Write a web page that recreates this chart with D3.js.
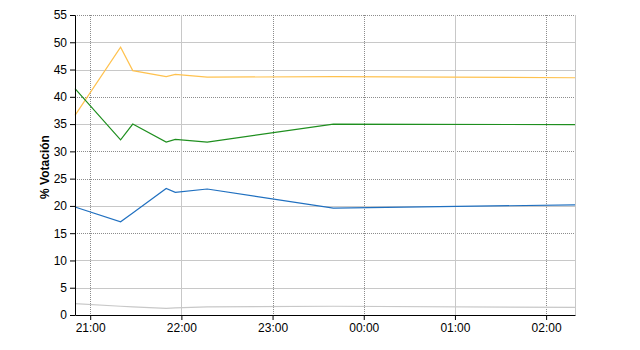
<!DOCTYPE html>
<html>
<head>
<meta charset="utf-8">
<script src="https://cdn.jsdelivr.net/npm/d3@7"></script>
<style>
  body { margin: 0; background: #fff; }
  .axis text { font-family: "Liberation Sans", Arial, sans-serif; font-size: 12px; fill: #000; }
  .axis path, .axis line { stroke: #000; }
</style>
</head>
<body>
<div id="chart"></div>
<script>
// data
var times  = ["20:50", "21:20", "21:28", "21:50", "21:56", "22:17", "23:40", "02:19"];
var orange = [36.6, 49.1, 44.8, 43.7, 44.1, 43.6, 43.7, 43.5];
var green  = [41.5, 32.1, 35.0, 31.7, 32.2, 31.7, 35.0, 34.9];
var blue   = [19.8, 17.1, 18.7, 23.2, 22.5, 23.1, 19.6, 20.2];
var grey   = [2.1, 1.6, 1.5, 1.2, 1.3, 1.5, 1.6, 1.4];
var yTicks = [0, 5, 10, 15, 20, 25, 30, 35, 40, 45, 50, 55];
var xTickLabels = ["21:00", "22:00", "23:00", "00:00", "01:00", "02:00"];

// which grid lines come out dotted in the original
var dottedY = [55, 40, 30, 25, 15];
var dottedX = ["21:00", "23:00", "00:00", "02:00"];

var margin = {top: 15, right: 65, bottom: 35, left: 75},
    width = 640 - margin.left - margin.right,
    height = 350 - margin.top - margin.bottom;

// times after midnight belong to the next day
function toDate(s) {
  var p = s.split(":"), h = +p[0], m = +p[1];
  return new Date(2011, 4, h < 12 ? 23 : 22, h, m);
}
var dates = times.map(toDate);
var xTicks = xTickLabels.map(toDate);

var svg = d3.select("#chart")
  .append("svg")
    .attr("width", width + margin.left + margin.right)
    .attr("height", height + margin.top + margin.bottom)
  .append("g")
    .attr("transform", "translate(" + margin.left + "," + margin.top + ")");

var x = d3.scaleTime()
  .domain([dates[0], dates[dates.length - 1]])
  .range([0, width]);

var y = d3.scaleLinear()
  .domain([0, 55])
  .range([height, 0]);

// grid
var grid = svg.append("g");
grid.selectAll(".hgrid")
  .data(yTicks.filter(function(d) { return d > 0; }))
  .enter().append("line")
    .attr("x1", 0).attr("x2", width)
    .attr("y1", function(d) { return Math.round(y(d)) + 0.5; })
    .attr("y2", function(d) { return Math.round(y(d)) + 0.5; })
    .attr("stroke", function(d) { return dottedY.indexOf(d) >= 0 ? "#8c8c8c" : "#c8c8c8"; })
    .attr("stroke-dasharray", function(d) { return dottedY.indexOf(d) >= 0 ? "1,1" : null; });

grid.selectAll(".vgrid")
  .data(xTickLabels)
  .enter().append("line")
    .attr("y1", 0).attr("y2", height)
    .attr("x1", function(d) { return Math.round(x(toDate(d))) + 0.5; })
    .attr("x2", function(d) { return Math.round(x(toDate(d))) + 0.5; })
    .attr("stroke", function(d) { return dottedX.indexOf(d) >= 0 ? "#8c8c8c" : "#c8c8c8"; })
    .attr("stroke-dasharray", function(d) { return dottedX.indexOf(d) >= 0 ? "1,1" : null; });

// right edge
grid.append("line")
  .attr("x1", width + 0.5).attr("x2", width + 0.5)
  .attr("y1", 0).attr("y2", height)
  .attr("stroke", "#c8c8c8");

// lines
var series = [
  {values: grey,   color: "#c8c8c8"},
  {values: orange, color: "#ffc24f"},
  {values: green,  color: "#1f8f1f"},
  {values: blue,   color: "#2070c0"}
];

var line = d3.line()
  .x(function(d, i) { return x(dates[i]); })
  .y(function(d) { return y(d); });

svg.selectAll(".serie")
  .data(series)
  .enter().append("path")
    .attr("fill", "none")
    .attr("stroke", function(d) { return d.color; })
    .attr("stroke-width", 1.2)
    .attr("d", function(d) { return line(d.values); });

// axes
svg.append("g")
  .attr("class", "axis")
  .attr("transform", "translate(0," + height + ")")
  .call(d3.axisBottom(x)
    .tickValues(xTicks)
    .tickFormat(d3.timeFormat("%H:%M"))
    .tickSize(5)
    .tickSizeOuter(0)
    .tickPadding(3));

svg.append("g")
  .attr("class", "axis")
  .call(d3.axisLeft(y)
    .tickValues(yTicks)
    .tickSize(5)
    .tickSizeOuter(0)
    .tickPadding(3));

// y label
svg.append("text")
  .attr("transform", "translate(" + (45 - margin.left) + "," + (167 - margin.top) + ") rotate(-90)")
  .attr("text-anchor", "middle")
  .attr("dominant-baseline", "central")
  .style("font-family", "Liberation Sans, Arial, sans-serif")
  .style("font-size", "12px")
  .style("font-weight", "bold")
  .text("% Votación");
</script>
</body>
</html>
